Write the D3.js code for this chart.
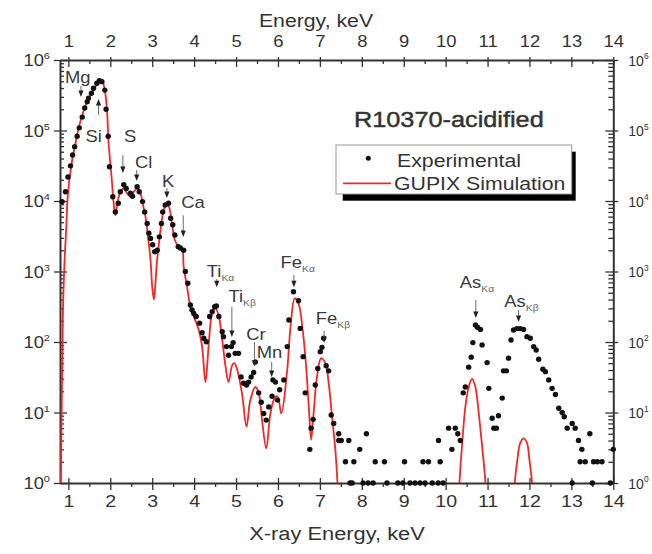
<!DOCTYPE html>
<html><head><meta charset="utf-8">
<script src="https://cdn.jsdelivr.net/npm/d3@7"></script>
<style>body{margin:0;background:#fff}svg{display:block}</style>
</head><body>
<svg id="c" width="652" height="554"></svg>
<script>
// ---------- data ----------
const expEnergy = [0.85,0.93,0.99,1.05,1.10,1.15,1.21,1.26,1.33,1.39,1.45,1.48,1.55,1.60,1.68,1.74,1.80,1.87,1.90,1.95,1.98,2.06,2.12,2.19,2.24,2.32,2.38,2.48,2.53,2.64,2.69,2.77,2.82,2.88,2.92,2.96,3.01,3.06,3.12,3.17,3.22,3.25,3.31,3.39,3.44,3.49,3.54,3.62,3.67,3.75,3.79,3.85,3.91,3.95,3.99,4.05,4.13,4.19,4.23,4.29,4.37,4.43,4.49,4.53,4.59,4.67,4.70,4.77,4.82,4.89,4.93,4.98,5.06,5.12,5.18,5.25,5.30,5.36,5.42,5.46,5.54,5.60,5.66,5.72,5.78,5.86,5.88,5.94,5.99,6.04,6.14,6.22,6.26,6.37,6.49,6.53,6.60,6.65,6.76,6.79,6.84,6.89,6.95,7.01,7.05,7.09,7.15,7.21,7.27,7.33,7.45,7.45,7.51,7.61,7.69,7.72,7.77,7.81,7.95,8.03,8.11,8.15,8.27,8.32,8.54,8.60,8.86,8.98,9.02,9.15,9.27,9.39,9.46,9.51,9.59,9.68,9.82,9.83,9.87,9.94,10.07,10.15,10.23,10.29,10.35,10.42,10.47,10.55,10.61,10.65,10.71,10.76,10.83,10.87,10.99,11.03,11.11,11.15,11.21,11.26,11.35,11.38,11.45,11.50,11.56,11.62,11.70,11.78,11.86,11.94,12.02,12.10,12.16,12.22,12.32,12.38,12.46,12.54,12.62,12.70,12.78,12.83,12.90,13.02,13.02,13.09,13.17,13.21,13.25,13.33,13.44,13.50,13.53,13.62,13.73,13.93,14.0];
const expCounts = [9800,13500,21900,31500,45000,59000,83000,109000,155000,209000,256000,288000,338000,398000,468000,510000,493000,374000,200000,83000,30600,11500,7000,9300,13500,17000,15100,12900,11700,15900,13500,9800,7000,4800,3500,2950,2400,1910,2000,3100,4800,7000,8800,9300,5700,4600,3300,2250,2150,2000,1000,680,335,285,255,230,185,135,113,101,230,270,316,324,230,140,119,86,65,86,98,69,69,32,26,24.5,27,32,37,52,19,14,9.7,7.8,12,17,29,27,15,21,29,86,205,515,385,156,62,19,3,6,8,24.5,42,73,84,113,46,39,9.2,7,5,4,4,2,4,1,1,2,3,1,5,1,1,2,2,1,1,1,2,1,1,1,2,1,2,1,1,4,2,1,6,3,6,5,4,19,23,44,61,98,174,162,151,91,51,22,8.3,6,6,9,16,39,39,59,107,148,155,155,151,119,113,86,77,57,41,38,29,22,18,11.5,10,8.7,6,7,1,6,4,2,3,2,5,1,2,2,2,1,3];

const simEnergy = [0.80,0.82,0.87,0.91,0.95,0.99,1.09,1.17,1.25,1.37,1.48,1.60,1.72,1.79,1.86,1.92,1.96,2.03,2.08,2.12,2.17,2.24,2.32,2.40,2.48,2.56,2.64,2.72,2.77,2.84,2.90,2.96,3.00,3.04,3.07,3.11,3.17,3.23,3.30,3.36,3.41,3.48,3.54,3.62,3.71,3.75,3.83,3.91,3.99,4.11,4.19,4.27,4.35,4.43,4.51,4.59,4.67,4.75,4.82,4.91,4.96,5.02,5.14,5.25,5.34,5.46,5.54,5.62,5.72,5.82,5.92,5.99,6.08,6.22,6.30,6.40,6.50,6.58,6.66,6.74,6.79,6.85,6.93,7.03,7.13,7.21,7.29,7.37,7.42,7.45,
  null,10.31,10.33,10.39,10.47,10.55,10.63,10.71,10.79,10.87,10.95,10.97,
  null,11.63,11.65,11.71,11.78,11.86,11.94,12.00,12.06,12.08];
const simCounts = [0.5,1,282,1450,4270,12900,38000,66000,112000,195000,288000,372000,490000,525000,400000,195000,66000,21900,9300,6300,9300,13500,15100,12900,11500,13500,15100,12900,9300,6000,3100,1450,600,400,600,1320,2800,5400,8300,9100,7900,4400,2800,2300,2150,1170,610,316,230,148,86,27,96,255,300,230,107,45,27,47,50,42,19,6.3,15,23,19,7.8,3.1,9.7,16,17,9.7,40,165,417,335,165,55,11,4.1,9.7,32,59,50,26,8.7,2.9,1,0.3,
  null,0.3,1,3.3,12,23,30,23,9.7,3.3,1,0.3,
  null,0.3,1,2.1,3.7,4.3,3.7,2.1,1,0.3];

const xTicks = [1,2,3,4,5,6,7,8,9,10,11,12,13,14];
const xMinorTicks = [1.5,2.5,3.5,4.5,5.5,6.5,7.5,8.5,9.5,10.5,11.5,12.5,13.5];
const yTicks = [1,10,100,1000,10000,100000,1000000];
const yMinorTicks = [1,10,100,1000,10000,100000].flatMap(d => [2,3,4,5,6,7,8,9].map(m => d*m));

const peakNames  = ["Mg","Si","S","Cl","K","Ca","Ti","Ti","Cr","Mn","Fe","Fe","As","As"];
const peakSubs   = ["","","","","","","Kα","Kβ","","","Kα","Kβ","Kα","Kβ"];
const peakEnergy = [1.30,1.72,2.30,2.63,3.35,3.74,4.54,4.90,5.44,5.85,6.38,7.10,10.72,11.74];
const arrowTail  = [427000,166000,45000,27500,15300,6300,780,314,100,52,890,144,395,285];
const arrowTip   = [299000,280000,25000,19200,11000,3090,600,118,45,32,600,97,219,192];
// label offset from arrow tail (px)
const labelDx = [-16,-13,1,-1.7,-5,-2,-10,-3.4,-8.3,-15,-13.3,-8.3,-16,-14.3];
const labelDy = [-2.7,26.7,-13.3,-2.3,-1.3,-6.7,-2.3,-5.3,-2,-4,-6.7,-7,-11.7,-3.3];

// ---------- drawing ----------
const svg = d3.select("#c");
const X0 = 60, X1 = 613.3, Y0 = 60, Y1 = 483;
const x = d3.scaleLinear().domain([0.80, 14.0]).range([X0, X1]);
const y = d3.scaleLog().domain([1, 1e6]).range([Y1, Y0]);
const SX = 1.15;
const FONT = "'Liberation Sans', Arial, Helvetica, sans-serif";
const INK = "#333";

function styleAxis(g){
  g.select(".domain").attr("stroke", INK).attr("stroke-width", 2);
  g.selectAll(".tick line").attr("stroke", INK).attr("stroke-width", 1.3);
  g.selectAll(".tick text").attr("fill", INK).attr("font-family", FONT);
}
function txt(parent, px, py, s, size, anchor){
  return parent.append("text")
    .attr("transform", `translate(${px},${py}) scale(${SX},1)`)
    .attr("font-size", size).attr("text-anchor", anchor || "start")
    .attr("fill", INK).attr("font-family", FONT).text(s);
}

// bottom axis
const gbMin = svg.append("g").attr("transform", `translate(0,${Y1})`)
  .call(d3.axisBottom(x).tickValues(xMinorTicks).tickSize(4).tickSizeOuter(0).tickFormat(""));
gbMin.select(".domain").remove(); styleAxis(gbMin);
const gb = svg.append("g").attr("transform", `translate(0,${Y1})`)
  .call(d3.axisBottom(x).tickValues(xTicks).tickSize(7).tickSizeOuter(0).tickPadding(5));
styleAxis(gb);
gb.selectAll(".tick line").attr("y1", -5);
gb.selectAll(".tick text").attr("font-size", 17).attr("transform", `scale(${SX},1)`);

// top axis
const gtMin = svg.append("g").attr("transform", `translate(0,${Y0})`)
  .call(d3.axisTop(x).tickValues(xMinorTicks).tickSize(-4).tickSizeOuter(0).tickFormat(""));
gtMin.select(".domain").remove(); styleAxis(gtMin);
const gt = svg.append("g").attr("transform", `translate(0,${Y0})`)
  .call(d3.axisTop(x).tickValues(xTicks).tickSize(-7).tickSizeOuter(0).tickPadding(13));
styleAxis(gt);
gt.selectAll(".tick line").attr("y1", -3);
gt.selectAll(".tick text").attr("font-size", 16).attr("transform", `scale(${SX},1)`);

// left axis
const glMin = svg.append("g").attr("transform", `translate(${X0},0)`)
  .call(d3.axisLeft(y).tickValues(yMinorTicks).tickSize(-4).tickSizeOuter(0).tickFormat(""));
glMin.select(".domain").remove(); styleAxis(glMin);
const gl = svg.append("g").attr("transform", `translate(${X0},0)`)
  .call(d3.axisLeft(y).tickValues(yTicks).tickSize(6).tickSizeOuter(0).tickFormat(""));
styleAxis(gl);
gl.selectAll(".tick line").attr("x1", 7);

// right axis
const grMin = svg.append("g").attr("transform", `translate(${X1},0)`)
  .call(d3.axisRight(y).tickValues(yMinorTicks).tickSize(-5).tickSizeOuter(0).tickFormat(""));
grMin.select(".domain").remove(); styleAxis(grMin);
const gr = svg.append("g").attr("transform", `translate(${X1},0)`)
  .call(d3.axisRight(y).tickValues(yTicks).tickSize(5).tickSizeOuter(0).tickFormat(""));
styleAxis(gr);
gr.selectAll(".tick line").attr("x1", -8);

function powLabel(g, dx, anchor, size, sx){
  g.selectAll(".tick").each(function(d){
    const t = d3.select(this).append("text")
      .attr("transform", `translate(${dx},0) scale(${sx},1)`)
      .attr("text-anchor", anchor).attr("dy", "0.36em")
      .attr("font-family", FONT).attr("font-size", size).attr("fill", INK);
    t.append("tspan").text("10");
    t.append("tspan").attr("font-size", size * 0.6).attr("dy", "-0.75em").text(String(Math.round(Math.log10(d))));
  });
}
powLabel(gl, -10, "end", 16, SX);
powLabel(gr, 15, "start", 14, 1.0);

// axis titles
txt(svg, 316, 27, "Energy, keV", 18.5, "middle");
txt(svg, 337, 540, "X-ray Energy, keV", 19, "middle");

// clip
svg.append("clipPath").attr("id", "plotclip").append("rect")
  .attr("x", X0).attr("y", Y0).attr("width", X1 - X0).attr("height", Y1 - Y0);

// simulation line
const simData = d3.zip(simEnergy, simCounts);
const line = d3.line()
  .defined(d => d[0] != null && d[1] != null)
  .x(d => x(d[0])).y(d => y(d[1]))
  .curve(d3.curveCatmullRom.alpha(0.5));
svg.append("path").attr("clip-path", "url(#plotclip)")
  .attr("d", line(simData)).attr("fill", "none")
  .attr("stroke", "#f02828").attr("stroke-width", 1.8).attr("stroke-linejoin", "round");

// experimental points
svg.append("g").selectAll("circle").data(d3.zip(expEnergy, expCounts)).join("circle")
  .attr("cx", d => x(d[0])).attr("cy", d => y(d[1])).attr("r", 2.7).attr("fill", "#111");

// peak annotations
const ann = svg.append("g");
peakNames.forEach((nm, i) => {
  const ax = x(peakEnergy[i]), ty = y(arrowTail[i]), hy = y(arrowTip[i]);
  const dir = hy > ty ? 1 : -1;
  ann.append("line").attr("x1", ax).attr("x2", ax).attr("y1", ty).attr("y2", hy - dir*5)
    .attr("stroke", "#777").attr("stroke-width", 1.1);
  ann.append("path").attr("d", `M${ax-2.6},${hy - dir*6.5}L${ax+2.6},${hy - dir*6.5}L${ax},${hy}Z`).attr("fill", "#222");
  const t = ann.append("text")
    .attr("transform", `translate(${ax + labelDx[i]},${ty + labelDy[i]}) scale(${SX},1)`)
    .attr("font-family", FONT).attr("font-size", 16).attr("fill", "#3a3a3a");
  t.append("tspan").text(nm);
  if (peakSubs[i]) t.append("tspan").attr("font-size", 9).attr("dy", 4).attr("fill", "#666").text(peakSubs[i]);
});

// sample title
txt(svg, 354, 127.3, "R10370-acidified", 22).attr("stroke", INK).attr("stroke-width", 0.45);

// legend
const lg = svg.append("g");
lg.append("rect").attr("x", 342.7).attr("y", 151.7).attr("width", 233).attr("height", 49).attr("fill", "#000");
lg.append("rect").attr("x", 336).attr("y", 145).attr("width", 235.7).attr("height", 49)
  .attr("fill", "#fff").attr("stroke", "#999").attr("stroke-width", 1);
lg.append("circle").attr("cx", 368.3).attr("cy", 158.3).attr("r", 2.5).attr("fill", "#111");
lg.append("line").attr("x1", 343).attr("x2", 391).attr("y1", 183.3).attr("y2", 183.3)
  .attr("stroke", "#f02828").attr("stroke-width", 1.8);
txt(lg, 397, 166.5, "Experimental", 18.5);
txt(lg, 394, 190, "GUPIX Simulation", 18.5);
</script>
</body></html>
